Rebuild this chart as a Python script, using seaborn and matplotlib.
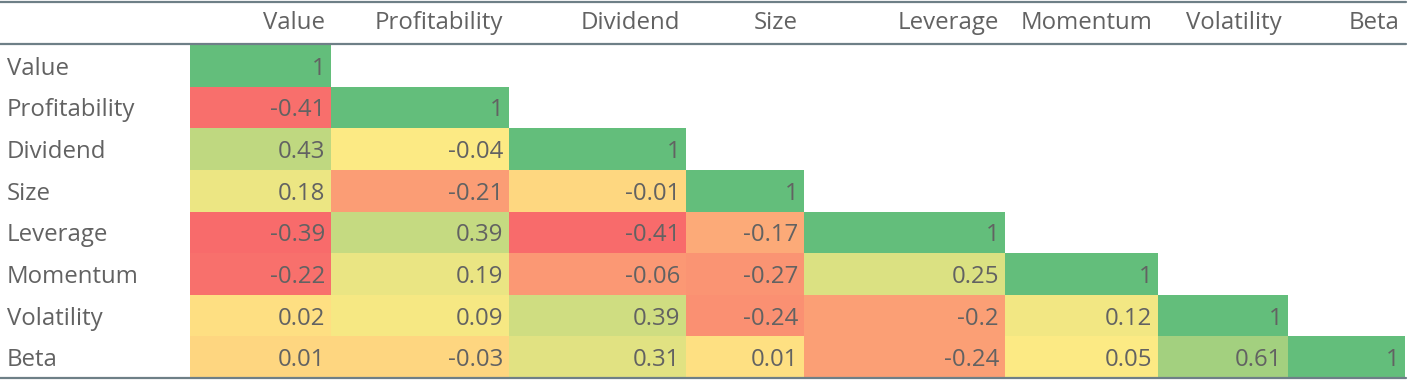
import numpy as np
import pandas as pd
import matplotlib
matplotlib.use("Agg")
import matplotlib.pyplot as plt
import matplotlib.transforms as mtransforms
from matplotlib.colors import LinearSegmentedColormap
from matplotlib.lines import Line2D
import seaborn as sns

factors = ["Value", "Profitability", "Dividend", "Size", "Leverage", "Momentum", "Volatility", "Beta"]

# correlation values (lower triangle, row by row)
row_value = [1]
row_profitability = [-0.41, 1]
row_dividend = [0.43, -0.04, 1]
row_size = [0.18, -0.21, -0.01, 1]
row_leverage = [-0.39, 0.39, -0.41, -0.17, 1]
row_momentum = [-0.22, 0.19, -0.06, -0.27, 0.25, 1]
row_volatility = [0.02, 0.09, 0.39, -0.24, -0.2, 0.12, 1]
row_beta = [0.01, -0.03, 0.31, 0.01, -0.24, 0.05, 0.61, 1]

# colour score of each cell on the red(-1) / yellow(0) / green(+1) scale
shade_value = [1]
shade_profitability = [-0.95, 1]
shade_dividend = [0.41, 0.02, 1]
shade_size = [0.12, -0.6, -0.15, 1]
shade_leverage = [-0.98, 0.37, -0.98, -0.5, 1]
shade_momentum = [-0.94, 0.14, -0.64, -0.67, 0.23, 1]
shade_volatility = [-0.09, 0.06, 0.31, -0.7, -0.58, 0.08, 1]
shade_beta = [-0.16, -0.16, 0.19, -0.08, -0.58, 0.02, 0.59, 1]

rows = [row_value, row_profitability, row_dividend, row_size, row_leverage,
        row_momentum, row_volatility, row_beta]
shades = [shade_value, shade_profitability, shade_dividend, shade_size, shade_leverage,
          shade_momentum, shade_volatility, shade_beta]

n = len(factors)
corr = np.full((n, n), np.nan)
shade = np.full((n, n), np.nan)
for i in range(n):
    corr[i, :len(rows[i])] = rows[i]
    shade[i, :len(shades[i])] = shades[i]
shade_df = pd.DataFrame(shade, index=factors, columns=factors)

# layout
W, H = 1408, 390
col_widths = [141, 178, 177, 118, 201, 153, 130, 117]
edges = np.concatenate([[0], np.cumsum(col_widths)]).astype(float)
idx = np.arange(n + 1, dtype=float)

text_color = "#626262"
line_color = "#6e7f87"
font = ["Open Sans", "DejaVu Sans"]
fs = 17.3

sns.set_style("white")
plt.rcParams["font.family"] = font

fig = plt.figure(figsize=(W / 100, H / 100), dpi=100)
left, right = 190 / W, 1405 / W
top, bottom = 1 - 45 / H, 1 - 378 / H
ax = fig.add_axes([left, bottom, right - left, top - bottom])

cmap = LinearSegmentedColormap.from_list("ryg", ["#F8696B", "#FFEB84", "#63BE7B"])
sns.heatmap(shade_df, cmap=cmap, vmin=-1, vmax=1, cbar=False, ax=ax,
            xticklabels=False, yticklabels=False, linewidths=0)

fwd = lambda x: np.interp(x, idx, edges)
inv = lambda y: np.interp(y, edges, idx)
ax.set_xscale("function", functions=(fwd, inv))
ax.set_xlim(0, n)
ax.set_ylim(n, 0)
ax.set_xticks([])
ax.set_yticks([])
ax.xaxis.set_minor_locator(matplotlib.ticker.NullLocator())
ax.tick_params(length=0, labelbottom=False, labelleft=False)
for s in ax.spines.values():
    s.set_visible(False)

def fmt(v):
    return f"{v:.2f}".rstrip("0").rstrip(".")

off = mtransforms.offset_copy(ax.transData, fig=fig, x=-6, y=-3, units="dots")
for i in range(n):
    for j in range(len(rows[i])):
        ax.text(j + 1, i + 0.5, fmt(corr[i, j]), transform=off, ha="right",
                va="center", color=text_color, fontsize=fs)

# column headers
hdr_tr = mtransforms.blended_transform_factory(off, ax.transAxes)
for j, name in enumerate(factors):
    ax.text(j + 1, 1 + 22 / 333, name, transform=hdr_tr, ha="right", va="center",
            color=text_color, fontsize=fs)

# row labels
row_base = mtransforms.blended_transform_factory(fig.transFigure, ax.transData)
row_tr = mtransforms.offset_copy(row_base, fig=fig, x=0, y=-3, units="dots")
for i, name in enumerate(factors):
    ax.text(7 / W, i + 0.5, name, transform=row_tr, ha="left", va="center",
            color=text_color, fontsize=fs)

for ypx in [2, 44, 378]:
    fig.add_artist(Line2D([0, 1406 / W], [1 - ypx / H, 1 - ypx / H],
                          transform=fig.transFigure, color=line_color, lw=1.6))

fig.savefig("out.png", dpi=100, facecolor="white")
